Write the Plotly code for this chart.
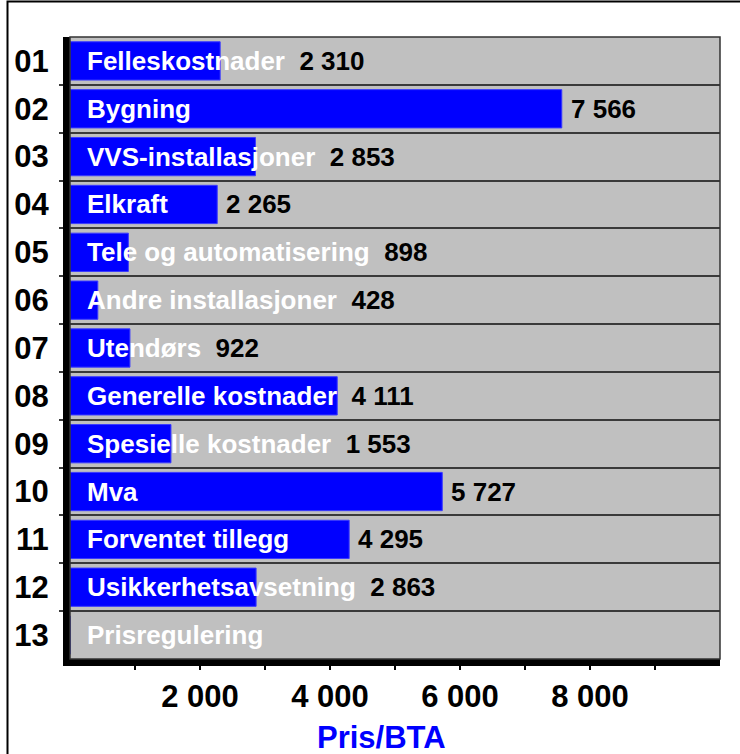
import plotly.graph_objects as go

codes = ["01", "02", "03", "04", "05", "06", "07", "08", "09", "10", "11", "12", "13"]
names = ["Felleskostnader", "Bygning", "VVS-installasjoner", "Elkraft",
         "Tele og automatisering", "Andre installasjoner", "Utendørs",
         "Generelle kostnader", "Spesielle kostnader", "Mva",
         "Forventet tillegg", "Usikkerhetsavsetning", "Prisregulering"]
values = [2310, 7566, 2853, 2265, 898, 428, 922, 4111, 1553, 5727, 4295, 2863, None]
x_tick_vals = [1000, 2000, 3000, 4000, 5000, 6000, 7000, 8000, 9000]
x_tick_text = ["", "2 000", "", "4 000", "", "6 000", "", "8 000", ""]
x_title = "Pris/BTA"

# ---- layout constants ----
W, H = 740, 754
ML, MR, MT, MB = 70, 20, 37, 95
X_RANGE = [0, 10000]
LABEL_FONT = 26
FONT = "Arial, Liberation Sans, sans-serif"
plot_w = W - ML - MR
plot_h = H - MT - MB
px_per_unit = plot_w / (X_RANGE[1] - X_RANGE[0])

# approximate Arial Bold advance widths (em/1000)
CW = {'a': 556, 'b': 611, 'c': 556, 'd': 611, 'e': 556, 'f': 333, 'g': 611, 'h': 611,
      'i': 278, 'j': 278, 'k': 556, 'l': 278, 'm': 889, 'n': 611, 'o': 611, 'p': 611,
      'q': 611, 'r': 389, 's': 556, 't': 333, 'u': 611, 'v': 556, 'w': 778, 'x': 556,
      'y': 556, 'z': 500, 'ø': 611, ' ': 278, '-': 333, 'F': 611, 'B': 722, 'V': 667,
      'S': 667, 'E': 667, 'T': 611, 'A': 722, 'U': 722, 'G': 778, 'M': 833, 'P': 667}


def text_w(s):
    return sum(CW.get(c, 600) for c in s) / 1000 * LABEL_FONT


ys = list(range(1, len(names) + 1))
bar_vals = [v if v is not None else 0 for v in values]

fig = go.Figure()
fig.add_trace(go.Bar(
    x=bar_vals, y=ys, orientation="h", width=0.8,
    marker=dict(color="#0000FF", line=dict(color="#3a3aff", width=1)),
    hoverinfo="skip", showlegend=False,
))

label_shift = 17  # px from zero
lab_font = dict(size=LABEL_FONT, family=FONT, weight="bold")
annotations = []
for y, name, v in zip(ys, names, values):
    name_end = label_shift + text_w(name)
    bar_end = (v or 0) * px_per_unit
    if v is None:
        annotations.append(dict(x=0, y=y, xref="x", yref="y", xanchor="left", yanchor="middle",
                                xshift=label_shift - 2, showarrow=False, text=f"<b>{name}</b>",
                                font=dict(color="white", **lab_font)))
        continue
    vtxt = f"{v:,}".replace(",", " ")
    if name_end + 4 > bar_end:
        txt = (f"<b><span style='color:white'>{name}</span>\u00a0\u00a0"
               f"<span style='color:black'>{vtxt}</span></b>")
        annotations.append(dict(x=0, y=y, xref="x", yref="y", xanchor="left", yanchor="middle",
                                xshift=label_shift - 2, showarrow=False, text=txt,
                                font=dict(color="black", **lab_font)))
    else:
        annotations.append(dict(x=0, y=y, xref="x", yref="y", xanchor="left", yanchor="middle",
                                xshift=label_shift - 2, showarrow=False, text=f"<b>{name}</b>",
                                font=dict(color="white", **lab_font)))
        annotations.append(dict(x=v, y=y, xref="x", yref="y", xanchor="left", yanchor="middle",
                                xshift=7, showarrow=False, text=f"<b>{vtxt}</b>",
                                font=dict(color="black", **lab_font)))

annotations.append(dict(x=(381 - ML) / plot_w, y=0, xref="paper", yref="paper", xanchor="center",
                        yanchor="middle", yshift=-78, showarrow=False, text=f"<b>{x_title}</b>",
                        font=dict(color="#0000FF", size=31, family=FONT, weight="bold")))

shapes = [
    # plot frame (thin, top/right)
    dict(type="rect", xref="paper", yref="paper", x0=0, x1=1, y0=0, y1=1,
         line=dict(color="#333333", width=1.5), layer="above"),
    # outer chart border (left/top)
    dict(type="rect", xref="paper", yref="paper",
         x0=(7.5 - ML) / plot_w, x1=(W + 5 - ML) / plot_w,
         y0=-(H + 5 - MT - plot_h) / plot_h, y1=1 + (MT - 1.5) / plot_h,
         line=dict(color="#000000", width=2), layer="below"),
]

fig.update_layout(
    width=W, height=H,
    margin=dict(l=ML, r=MR, t=MT, b=MB, pad=0),
    paper_bgcolor="white", plot_bgcolor="#C0C0C0",
    font=dict(family=FONT, color="black"),
    bargap=0.2,
    annotations=annotations, shapes=shapes,
    xaxis=dict(range=X_RANGE, showgrid=False, zeroline=False,
               tickmode="array", tickvals=x_tick_vals, ticktext=x_tick_text,
               ticks="outside", ticklen=4, tickwidth=1.5, tickcolor="#000",
               showline=True, linecolor="#000", linewidth=7,
               tickfont=dict(size=31, family=FONT, color="black", weight="bold")),
    yaxis=dict(range=[13.5, 0.5], showgrid=False, zeroline=False,
               tickmode="array", tickvals=ys, ticktext=codes, ticks="",
               showline=True, linecolor="#000", linewidth=7,
               ticklabelstandoff=8,
               tickfont=dict(size=31, family=FONT, color="black", weight="bold"),
               minor=dict(tickmode="array", tickvals=[i + 0.5 for i in range(1, 13)],
                          showgrid=True, gridcolor="#3a3a3a", gridwidth=1.5,
                          ticks="outside", ticklen=4, tickcolor="#3a3a3a", tickwidth=1.5)),
)

fig.write_html("out.html", config={"displayModeBar": False},
               post_script="document.body.style.margin='0';")
